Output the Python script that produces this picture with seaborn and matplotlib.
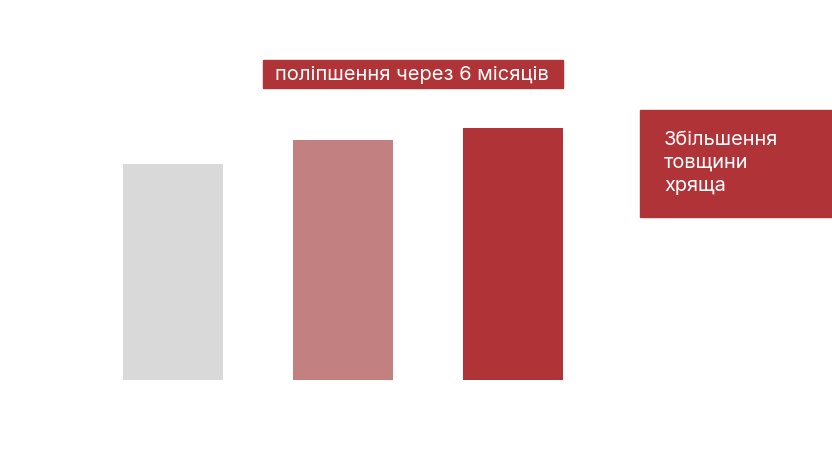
import matplotlib
matplotlib.use('Agg')
import matplotlib.pyplot as plt
import seaborn as sns
import pandas as pd
from matplotlib.patches import Rectangle

# дані
groups = ['A', 'B', 'C']
values = [21.6, 24.0, 25.2]
colors = ['#d9d9d9', '#c38081', '#b03437']

title_text = 'поліпшення через 6 місяців'
side_text = 'Збільшення\nтовщини\nхряща'

sns.set_theme(style='white')
plt.rcParams['font.family'] = ['Inter', 'DejaVu Sans']

W, H = 832, 458
fig = plt.figure(figsize=(W / 100, H / 100), dpi=100)
ax = fig.add_axes([88 / W, 78 / H, 510 / W, 300 / H])

df = pd.DataFrame({'group': groups, 'value': values})
sns.barplot(data=df, x='group', y='value', hue='group', palette=colors,
            width=100 / 170, legend=False, ax=ax, saturation=1, linewidth=0)
ax.set_xlim(-0.5, 2.5)
ax.set_ylim(0, 30)
ax.axis('off')

# заголовок у червоній плашці
fig.patches.append(Rectangle((263 / W, 1 - 88 / H), 300 / W, 28 / H,
                             transform=fig.transFigure, color='#b03437', zorder=0))
fig.text(412 / W, 1 - 75 / H, title_text, color='white', fontsize=14.5,
         ha='center', va='center')

# права плашка
fig.patches.append(Rectangle((640 / W, 1 - 217 / H), 192 / W, 107 / H,
                             transform=fig.transFigure, color='#b03437', zorder=0))
fig.text(664 / W, 1 - 163 / H, side_text, color='white', fontsize=14.4,
         ha='left', va='center', linespacing=1.35)

fig.savefig('out.png', dpi=100)
